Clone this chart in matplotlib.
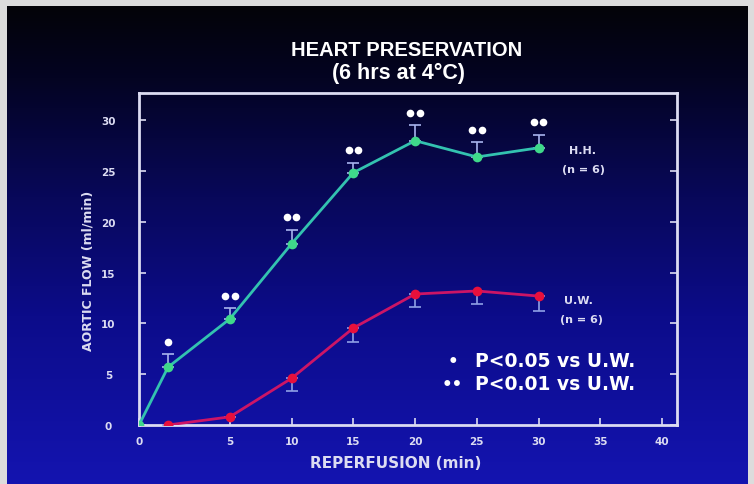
import numpy as np
import matplotlib
matplotlib.use("Agg")
import matplotlib.pyplot as plt
from matplotlib.colors import LinearSegmentedColormap
from matplotlib.transforms import ScaledTranslation

# reperfusion time (min); the y axis sits a little before t = 0
X_ORIGIN = -2.35
times = [0, 5, 10, 15, 20, 25, 30]

# H.H. group (n = 6)
hh_flow = [5.7, 10.45, 17.85, 24.85, 28.0, 26.4, 27.3]
hh_err = [1.3, 1.1, 1.4, 1.0, 1.5, 1.5, 1.3]
hh_stars = [1, 2, 2, 2, 2, 2, 2]  # 1: P<0.05, 2: P<0.01 vs U.W.

# U.W. group (n = 6)
uw_flow = [0.0, 0.8, 4.6, 9.55, 12.9, 13.2, 12.7]
uw_err = [1.6, 0.0, 1.3, 1.4, 1.3, 1.3, 1.5]

xtick_vals = [0, 5, 10, 15, 20, 25, 30, 35, 40]
ytick_vals = [0, 5, 10, 15, 20, 25, 30]

W, H = 754, 485
fig = plt.figure(figsize=(W / 100, H / 100), dpi=100)
fig.patch.set_facecolor("#dcdcdc")


def fx(px):
    return px / W


def fy(py):
    return 1 - py / H


# slide background: black at the top fading to deep blue
bg = fig.add_axes([fx(7), 0, fx(748) - fx(7), fy(7)])
bg.set_axis_off()
cmap = LinearSegmentedColormap.from_list(
    "slide", [(0, "#1414b0"), (0.35, "#0c0c8a"), (0.6, "#08085a"), (0.85, "#040422"), (1, "#030308")]
)
grad = np.linspace(0, 1, 256).reshape(-1, 1)
bg.imshow(grad, aspect="auto", cmap=cmap, origin="lower", extent=[0, 1, 0, 1])

ax = fig.add_axes([fx(139), fy(426), fx(677) - fx(139), fy(94) - fy(426)])
ax.set_facecolor("none")

fg = "#dcdcf2"
hh_x = [X_ORIGIN] + times
hh_y = [0.0] + hh_flow

ax.errorbar(times, hh_flow, yerr=[np.zeros(len(hh_err)), hh_err], fmt="none",
            ecolor="#a8b4ee", elinewidth=1.2, capsize=4, capthick=1.2, zorder=3)
ax.errorbar(times, uw_flow, yerr=[uw_err, np.zeros(len(uw_err))], fmt="none",
            ecolor="#8fa0e6", elinewidth=1.2, capsize=4, capthick=1.2, zorder=3)

ax.plot(hh_x, hh_y, color="#33c2b0", lw=2, zorder=4)
ax.plot(hh_x, hh_y, "o", color="#3fd98a", ms=7, mec="none", zorder=5)
ax.plot(times, uw_flow, color="#cc1566", lw=2, zorder=4)
ax.plot(times, uw_flow, "o", color="#e8103c", ms=7, mec="none", zorder=5)

# significance dots above the H.H. error bars
for t, v, e, n in zip(times, hh_flow, hh_err, hh_stars):
    offsets = [0] if n == 1 else [-3.4, 3.4]
    for dx in offsets:
        shift = ax.transData + ScaledTranslation(dx / 72, 0, fig.dpi_scale_trans)
        ax.plot([t], [v + e + 1.2], "o", color="white", ms=5.5, mec="none",
                zorder=6, transform=shift)

ax.set_xlim(X_ORIGIN, 41.2)
ax.set_ylim(0, 32.7)

xtick_pos = [X_ORIGIN] + xtick_vals[1:]
ax.set_xticks(xtick_pos)
ax.set_xticklabels([str(v) for v in xtick_vals])
ax.set_yticks(ytick_vals)
ax.set_yticklabels([str(v) for v in ytick_vals])
ax.tick_params(direction="in", length=5, width=1.2, color=fg, labelcolor=fg,
               labelsize=7.5, right=True, pad=8)
for lab in ax.get_xticklabels() + ax.get_yticklabels():
    lab.set_fontweight("bold")
ax.tick_params(axis="y", pad=22)
for lab in ax.get_yticklabels():
    lab.set_horizontalalignment("center")

for s in ax.spines.values():
    s.set_color(fg)
    s.set_linewidth(2)

font = ["Liberation Sans", "DejaVu Sans"]
fig.text(fx(407), fy(51), "HEART PRESERVATION", color="white", fontsize=14.5,
         fontweight="bold", ha="center", va="center", family=font)
fig.text(fx(398), fy(73), "(6 hrs at 4°C)", color="white", fontsize=15.5,
         fontweight="bold", ha="center", va="center", family=font)

fig.text(fx(396), fy(463), "REPERFUSION (min)", color=fg, fontsize=11,
         fontweight="bold", ha="center", va="center")
fig.text(fx(88), fy(271), "AORTIC FLOW (ml/min)", color=fg, fontsize=9,
         fontweight="bold", ha="center", va="center", rotation=90)

fig.text(fx(582), fy(151), "H.H.", color=fg, fontsize=8, fontweight="bold",
         ha="center", va="center")
fig.text(fx(583), fy(170), "(n = 6)", color=fg, fontsize=8, fontweight="bold",
         ha="center", va="center")
fig.text(fx(578), fy(301), "U.W.", color=fg, fontsize=8, fontweight="bold",
         ha="center", va="center")
fig.text(fx(582), fy(320), "(n = 6)", color=fg, fontsize=8, fontweight="bold",
         ha="center", va="center")

fig.text(fx(453), fy(362), "•", color="white", fontsize=12, fontweight="bold",
         ha="center", va="center")
fig.text(fx(475), fy(362), "P<0.05 vs U.W.", color="white", fontsize=13.5,
         fontweight="bold", ha="left", va="center")
fig.text(fx(452), fy(385), "••", color="white", fontsize=12, fontweight="bold",
         ha="center", va="center")
fig.text(fx(475), fy(385), "P<0.01 vs U.W.", color="white", fontsize=13.5,
         fontweight="bold", ha="left", va="center")

fig.savefig("out.png", dpi=100, facecolor=fig.get_facecolor())
